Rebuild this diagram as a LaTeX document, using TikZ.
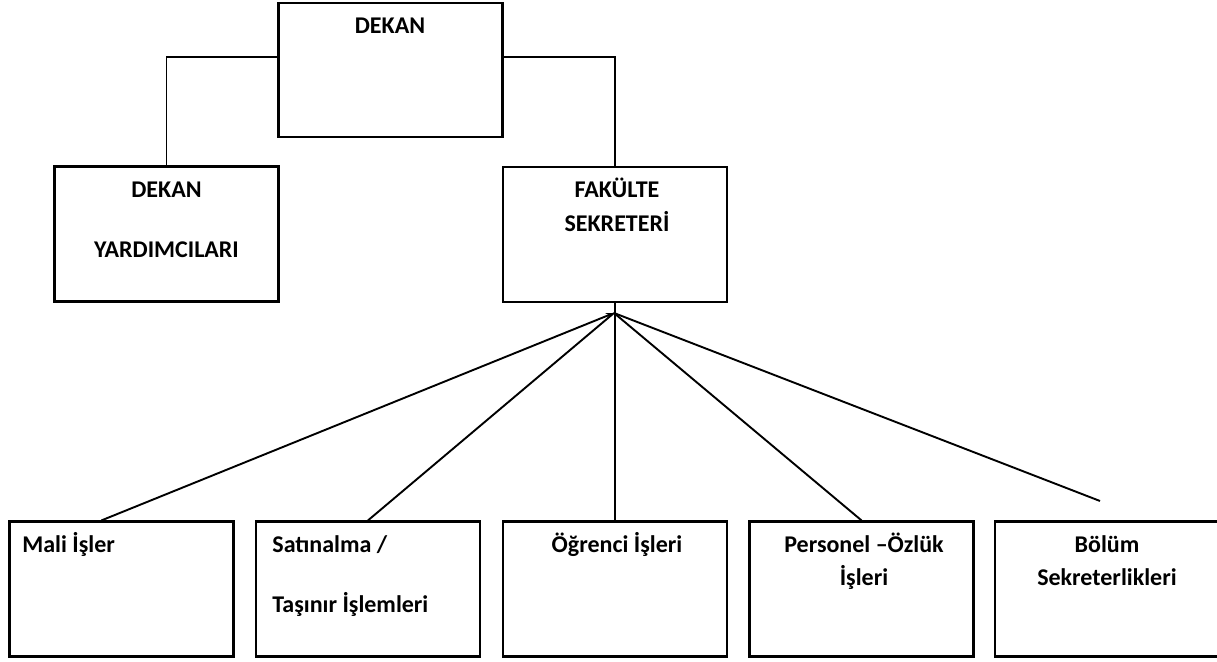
\documentclass[tikz,border=0pt]{standalone}
\usepackage{fontspec}
\setmainfont{Carlito}
\usetikzlibrary{arrows.meta}
\tikzset{
  box/.style={draw, line width=1.1pt, inner sep=0pt, minimum width=112pt, minimum height=67.5pt},
  lbl/.style={font=\bfseries\fontsize{12}{14}\selectfont, inner sep=0pt},
  link/.style={line width=0.95pt},
}
\begin{document}
\begin{tikzpicture}[x=0.5pt,y=-0.5pt]
	%%%%% START %%%%%
	\useasboundingbox (0,0) rectangle (1217,662);
	
	\node[box, minimum height=67pt] (dekan) at (390.5,70) {};
	\node[box] (yard) at (166.5,234) {};
	\node[box] (sekr) at (615,234.5) {};
	
	\node[box] (mali) at (121.5,589) {};
	\node[box] (satin) at (368,589) {};
	\node[box] (ogr) at (615,589) {};
	\node[box] (pers) at (861.5,589) {};
	\node[box, minimum width=113.5pt] (bolum) at (1108.5,589) {};
	
	\node[lbl, anchor=base] (tdekan) at (390,34) {DEKAN};
	\node[lbl, anchor=base] (tyard1) at (166.5,198) {DEKAN};
	\node[lbl, anchor=base] (tyard2) at (166.5,258) {YARDIMCILARI};
	\node[lbl, anchor=base] (tsekr1) at (617,198) {FAKÜLTE};
	\node[lbl, anchor=base] (tsekr2) at (617,232) {SEKRETERİ};
	
	\node[lbl, anchor=base west] (tmali) at (22,553) {Mali İşler};
	\node[lbl, anchor=base west] (tsatin1) at (272,553) {Satınalma /};
	\node[lbl, anchor=base west] (tsatin2) at (272,613) {Taşınır İşlemleri};
	\node[lbl, anchor=base] (togr) at (617,553) {Öğrenci İşleri};
	\node[lbl, anchor=base] (tpers1) at (864,553) {Personel –Özlük};
	\node[lbl, anchor=base] (tpers2) at (864,586) {İşleri};
	\node[lbl, anchor=base] (tbolum1) at (1107,553) {Bölüm};
	\node[lbl, anchor=base] (tbolum2) at (1107,586) {Sekreterlikleri};
	
	\draw[link] ([yshift=6.5pt]dekan.west) -| (yard.north);
	\draw[link] ([yshift=6.5pt]dekan.east) -| (sekr.north);
	
	\coordinate (hub) at (614,313);
	\coordinate (bolumend) at (1100,501);
	\draw[link] (sekr.south) -- (ogr.north);
	\draw[link, -{Stealth[length=4pt,width=3pt]}] ([xshift=-10pt]mali.north) -- (hub);
	\draw[link] (hub) -- (satin.north);
	\draw[link] (hub) -- (pers.north);
	\draw[link] (hub) -- (bolumend);
	
	%%%%% END %%%%%
\end{tikzpicture}
\end{document}
